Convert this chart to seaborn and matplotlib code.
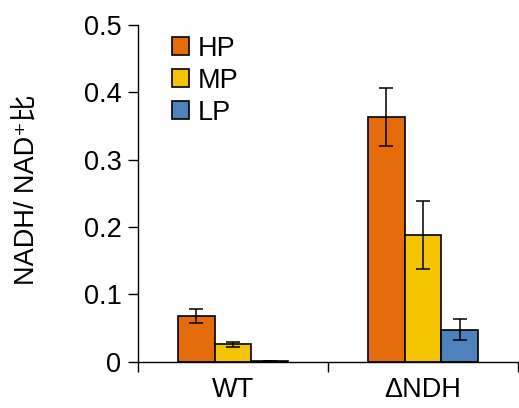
import numpy as np
import pandas as pd
import seaborn as sns
import matplotlib.pyplot as plt

strains = ["WT", "ΔNDH"]
light = ["HP", "MP", "LP"]
wt_mean = [0.068, 0.026, 0.001]
wt_err = [0.011, 0.004, 0.0]
ndh_mean = [0.364, 0.188, 0.048]
ndh_err = [0.043, 0.050, 0.015]
colors = ["#E46C0A", "#F5C400", "#4F81BD"]

df = pd.DataFrame({
    "strain": np.repeat(strains, 3),
    "light": light * 2,
    "value": wt_mean + ndh_mean,
    "err": wt_err + ndh_err,
})

sns.set_style("ticks", {"text.color": "black", "xtick.color": "black",
                        "ytick.color": "black", "axes.labelcolor": "black",
                        "axes.edgecolor": "black"})
plt.rcParams["font.family"] = ["Liberation Sans", "DejaVu Sans", "Noto Sans CJK SC"]

fig = plt.figure(figsize=(5.19, 4.08), dpi=100)
ax = fig.add_axes([0.266, 0.113, 0.732, 0.826])

sns.barplot(data=df, x="strain", y="value", hue="light", palette=colors,
            width=0.58, gap=0, edgecolor="black", linewidth=1.2, ax=ax,
            errorbar=None, saturation=1)

# error bars at the centre of each bar
bar_conts = list(ax.containers)[:3]
for i, cont in enumerate(bar_conts):
    sub = df[df["light"] == light[i]]
    xs = [p.get_x() + p.get_width() / 2 for p in cont.patches]
    ax.errorbar(xs, sub["value"], yerr=sub["err"], fmt="none",
                ecolor="black", elinewidth=1.1, capsize=5, capthick=1.1)

fs = 19.5
ax.set_ylim(0, 0.5)
ax.set_xlim(-0.5, 1.5)
ax.set_yticks([0, 0.1, 0.2, 0.3, 0.4, 0.5])
ax.set_yticklabels(["0", "0.1", "0.2", "0.3", "0.4", "0.5"])
ax.set_xticks([-0.5, 0.5, 1.5], minor=True)
ax.tick_params(axis="x", which="major", length=0, labelsize=fs, pad=11)
ax.tick_params(axis="x", which="minor", length=7, width=1)
ax.tick_params(axis="y", length=7, width=1, labelsize=fs, pad=5)
ax.set_xlabel("")
ax.set_ylabel("NADH/ NAD⁺比", fontsize=fs)
ax.yaxis.set_label_coords(-0.26, 0.51)
for s in ["top", "right"]:
    ax.spines[s].set_visible(False)
for s in ["left", "bottom"]:
    ax.spines[s].set_linewidth(1)

ax.legend(loc="upper left", bbox_to_anchor=(0.06, 1.0), frameon=False,
          fontsize=fs, handlelength=0.65, handleheight=0.65, handletextpad=0.3,
          labelspacing=0.22, borderaxespad=0)

fig.savefig("out.png", dpi=100)
